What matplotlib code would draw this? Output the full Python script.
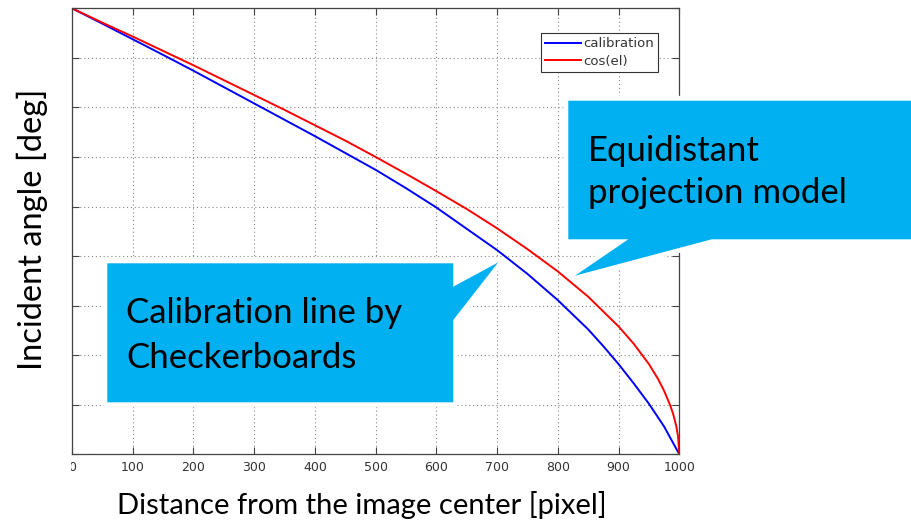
import numpy as np
import matplotlib
matplotlib.use("Agg")
import matplotlib.pyplot as plt
from matplotlib.patches import Polygon, Rectangle
from matplotlib.transforms import Affine2D

# ---- data ----
dist_blue = [0, 50, 100, 150, 200, 250, 300, 350, 400, 450, 500, 550, 600,
             650, 700, 750, 800, 850, 875, 900, 925, 950, 975, 1000]
angle_calibration = [90, 86.9, 83.75, 80.6, 77.4, 74.1, 70.8, 67.5, 64.2, 60.8,
                     57.4, 53.7, 49.8, 45.5, 41.2, 36.4, 31.1, 25.2, 21.8, 18.2,
                     14.3, 10.2, 5.6, 0]

dist_red = [0, 50, 100, 150, 200, 250, 300, 350, 400, 450, 500, 550, 600, 650,
            700, 750, 800, 850, 900, 925, 950, 965, 975, 985, 990, 995, 998, 1000]
angle_cos = [90, 87.1, 84.3, 81.4, 78.5, 75.5, 72.5, 69.5, 66.4, 63.3, 60.0,
             56.6, 53.1, 49.5, 45.6, 41.4, 36.9, 31.8, 25.8, 22.3, 18.2, 15.2,
             12.8, 9.9, 8.1, 5.7, 3.6, 0]

xticks = [0, 100, 200, 300, 400, 500, 600, 700, 800, 900, 1000]
yticks = [0, 10, 20, 30, 40, 50, 60, 70, 80, 90]
legend_labels = ["calibration", "cos(el)"]
xlabel = "Distance from the image center [pixel]"
ylabel = "Incident angle [deg]"
note_calib = ["Calibration line by", "Checkerboards"]
note_equi = ["Equidistant", "projection model"]

W, H = 912, 521
fig = plt.figure(figsize=(W / 100, H / 100), dpi=100)
ax = fig.add_axes([72 / W, 1 - 454.3 / H, (679.3 - 72) / W, (454.3 - 8.3) / H])

ax.plot(dist_blue, angle_calibration, color="#0000ff", lw=1.4, label=legend_labels[0])
ax.plot(dist_red, angle_cos, color="#ff0000", lw=1.4, label=legend_labels[1])

ax.set_xlim(0, 1000)
ax.set_ylim(0, 90)
ax.set_xticks(xticks)
ax.set_yticks(yticks)
ax.set_yticklabels([])
ax.tick_params(direction="in", length=5, width=0.8, top=True, right=True,
               labelsize=9, labelcolor="#333333", color="#444444", pad=5)
ax.grid(True, linestyle=(0, (1, 2.5)), color="#888888", lw=0.8)
for s in ax.spines.values():
    s.set_color("#444444")
    s.set_linewidth(0.9)

leg = ax.legend(loc="upper right", bbox_to_anchor=(0.965, 0.944), borderaxespad=0,
                fancybox=False, framealpha=1, edgecolor="#333333", fontsize=9.5,
                handlelength=2.7, handletextpad=0.2, borderpad=0.3,
                labelspacing=0.35)
leg.get_frame().set_linewidth(0.8)
for t in leg.get_texts():
    t.set_color("#333333")

big = "Lato"
fig.text(362 / W, 1 - 514 / H, xlabel, fontsize=21, family=big,
         ha="center", va="baseline", color="black")
fig.text(32.5 / W, 1 - 229 / H, ylabel, fontsize=23.5, family=big,
         ha="center", va="center", rotation=90, color="black")

# cover left edge (reference is cropped there)
fig.add_artist(Rectangle((0, 0), 71.5 / W, 1 - 455 / H, transform=fig.transFigure,
                         facecolor="white", edgecolor="none", zorder=5))

# callouts in figure pixel coordinates (y downward)
pix = Affine2D().scale(1 / W, -1 / H).translate(0, 1) + fig.transFigure
callout_color = "#00b0f0"
calib_poly = [(107.3, 263.3), (453.3, 263.3), (453.3, 286.7), (498.3, 262.3),
              (453.3, 320), (453.3, 402.3), (107.3, 402.3)]
equi_poly = [(568.3, 100.7), (940, 100.7), (940, 239.3), (711.7, 239.3),
             (575, 275.7), (628.3, 239.3), (568.3, 239.3)]
for poly in (calib_poly, equi_poly):
    fig.add_artist(Polygon(poly, closed=True, transform=pix, facecolor="white",
                           edgecolor="white", lw=7, joinstyle="round", zorder=9))
    fig.add_artist(Polygon(poly, closed=True, transform=pix, facecolor=callout_color,
                           edgecolor="none", lw=0, zorder=10))

for i, line in enumerate(note_calib):
    fig.text(126 / W, 1 - (322.7 + 45.6 * i) / H, line, fontsize=25, family=big,
             ha="left", va="baseline", color="black", zorder=11)
for i, line in enumerate(note_equi):
    fig.text(588.3 / W, 1 - (161 + 42.3 * i) / H, line, fontsize=25, family=big,
             ha="left", va="baseline", color="black", zorder=11)

fig.savefig("out.png", dpi=100)
